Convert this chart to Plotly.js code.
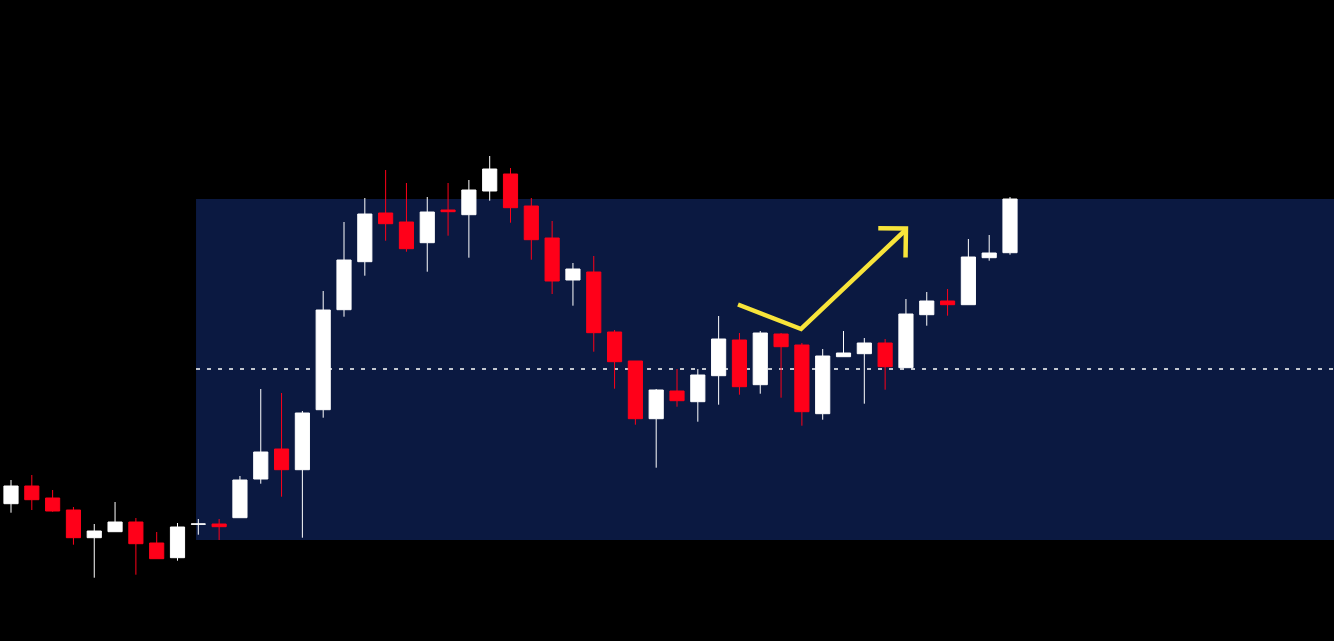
<!DOCTYPE html>
<html>
<head>
<meta charset="utf-8">
<script src="https://cdn.plot.ly/plotly-3.0.1.min.js"></script>
<style>
  html, body { margin: 0; padding: 0; background: #000; }
  #chart { width: 1334px; height: 641px; }
</style>
</head>
<body>
<div id="chart"></div>
<script>
// Candle values (price units)
const opens  = [137.3,155,143,131,103.3,109.3,119,98,83.3,116.8,117,123.3,162,192,171.3,231.3,331.3,379.3,428,419,398.3,431,426.3,450,467,435,403,361,369,309,280,222.3,250,239.3,265.3,301,256.3,307,296,227.3,284.3,287.3,298,273.3,326.3,340,336.3,383.3,388.3];
const highs  = [161,166,151,134,117,139,123,109,118,122,122,165,252,248,230,350,419,443,471,458,444,458,461,485,473,443,420,378,385,311,280,252,272,272,325,308,310,308,298,292,310,303,302,342,349,352,402,406,444];
const lows   = [128.3,131,129.3,96.3,63.3,109.3,66.3,82.3,80.3,106.3,101,123.3,157.3,144.3,103.3,223.3,324.3,365.3,400.3,389.3,369.3,405.3,383.3,440.3,418.3,381.3,347,335.3,289.3,252.3,216.3,173.3,234.3,219.3,236.3,246.3,247.3,243.3,215.3,221.3,284.3,237.3,251.3,273.3,315.3,325.3,336.3,380.3,386.3];
const closes = [155,141.3,130,103.3,110,119,97.3,82.3,114,117,114.3,161,189,171.3,228,331,381,427,417.3,392.3,429,429.3,451,472,433.3,401.3,360,372,308.3,279.3,222.3,251,240.3,266,302,254.3,308,294.3,229.3,285,288,298,274.3,327,340,336.3,384,388,442];

// Highlighted zone and level
const zoneStart = 8.89, zoneLow = 101, zoneHigh = 442;
const levelPrice = 272;

// Hand-drawn arrow (x in bar index, y in price)
const arrowX = [34.93, 37.96, 42.98, null, 41.67, 43.0, 42.98];
const arrowY = [336.5, 312, 411, null, 412.7, 412.5, 383.5];

const idx = opens.map((_, i) => i);

const candle = {
  type: 'candlestick',
  x: idx, open: opens, high: highs, low: lows, close: closes,
  increasing: { line: { color: '#ffffff', width: 1 }, fillcolor: '#ffffff' },
  decreasing: { line: { color: '#ff0019', width: 1 }, fillcolor: '#ff0019' },
  whiskerwidth: 0,
  hoverinfo: 'none',
  showlegend: false
};

const arrow = {
  type: 'scatter', mode: 'lines',
  x: arrowX, y: arrowY,
  connectgaps: false,
  line: { color: '#f8e43a', width: 4.5, shape: 'linear' },
  hoverinfo: 'none', showlegend: false
};

const layout = {
  width: 1334, height: 641,
  margin: { l: 0, r: 0, t: 0, b: 0, pad: 0 },
  paper_bgcolor: '#000000',
  plot_bgcolor: '#000000',
  boxmode: 'overlay',
  boxgap: 0.32,
  boxgroupgap: 0,
  xaxis: {
    range: [-0.5285, 63.567],
    visible: false, showgrid: false, zeroline: false,
    rangeslider: { visible: false }, fixedrange: true
  },
  yaxis: {
    range: [0, 641],
    visible: false, showgrid: false, zeroline: false, fixedrange: true
  },
  shapes: [
    { type: 'rect', layer: 'below', xref: 'x', yref: 'y',
      x0: zoneStart, x1: 70, y0: zoneLow, y1: zoneHigh,
      fillcolor: '#0b1941', line: { width: 0 } },
    { type: 'line', layer: 'below', xref: 'x', yref: 'y',
      x0: zoneStart, x1: 70, y0: levelPrice, y1: levelPrice,
      line: { color: '#ffffff', width: 1.6, dash: '4px,7px' } }
  ],
  showlegend: false
};

Plotly.newPlot('chart', [candle, arrow], layout, { displayModeBar: false, staticPlot: true });
</script>
</body>
</html>
